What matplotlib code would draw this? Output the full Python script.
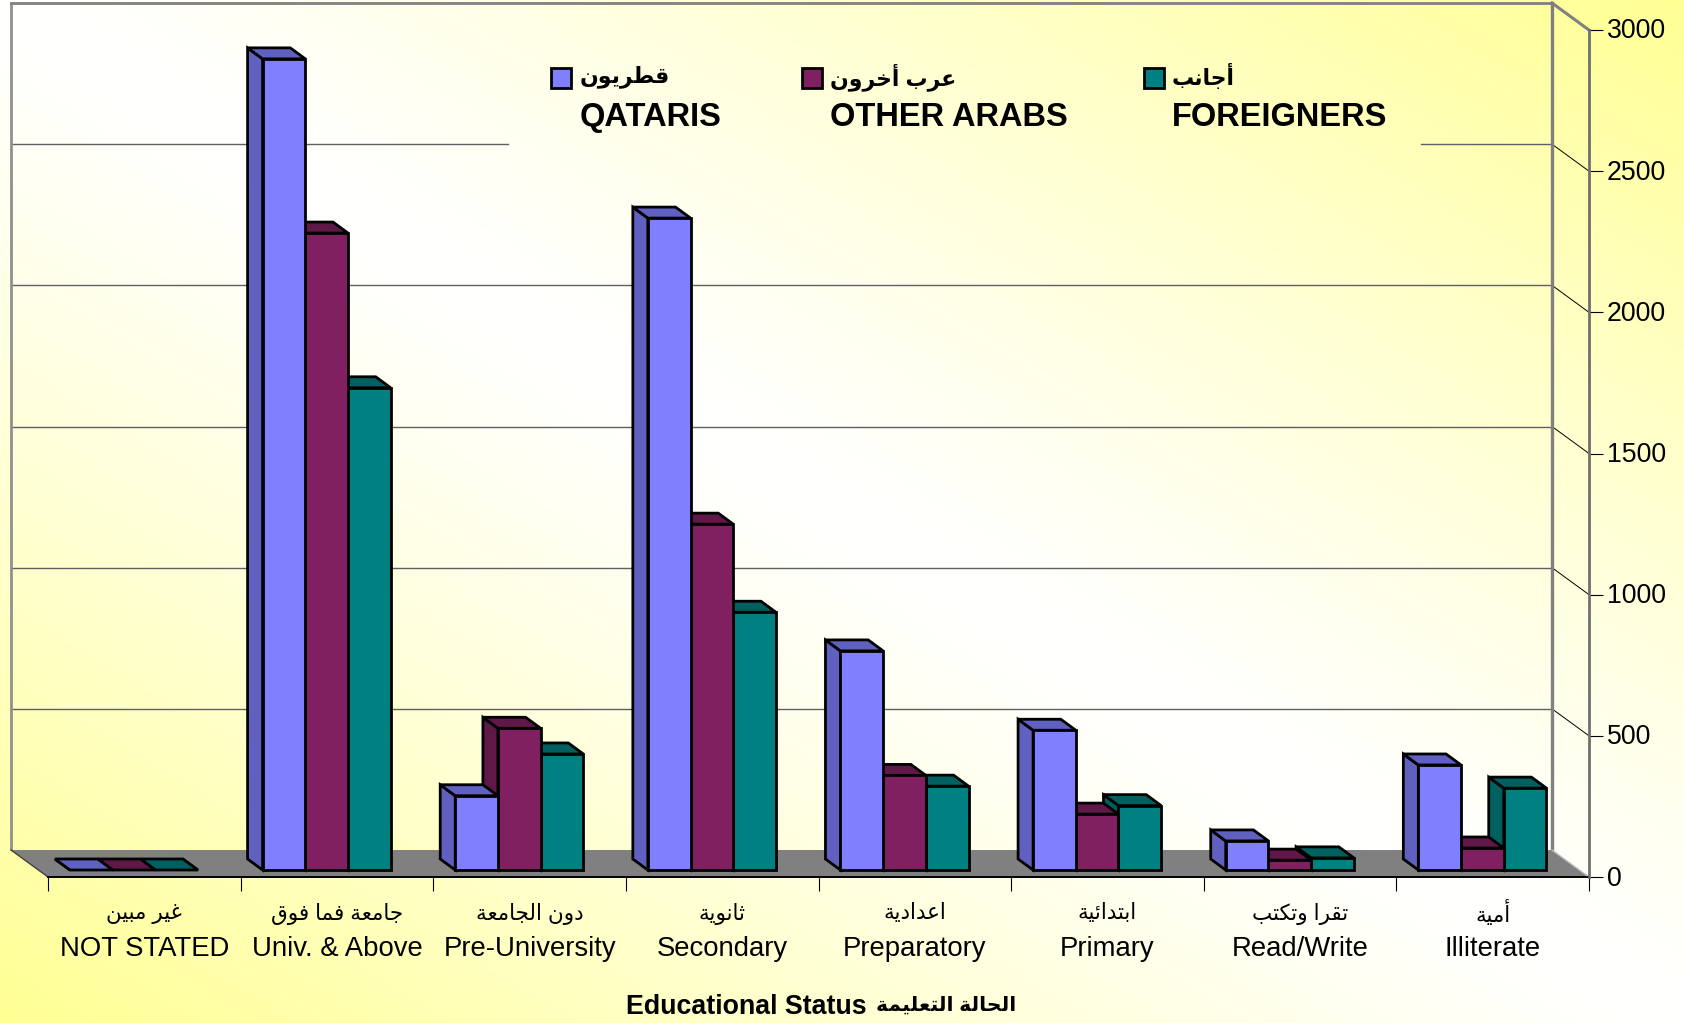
import numpy as np
import matplotlib
matplotlib.use("Agg")
import matplotlib.pyplot as plt
from matplotlib.patches import Polygon
from matplotlib.transforms import ScaledTranslation

# data
categories_en = ["NOT STATED", "Univ. & Above", "Pre-University", "Secondary",
                 "Preparatory", "Primary", "Read/Write", "Illiterate"]
categories_ar = ["غير مبين", "جامعة فما فوق", "دون الجامعة", "ثانوية",
                 "اعدادية", "ابتدائية", "تقرا وتكتب", "أمية"]
qataris = [0, 2873, 263, 2309, 776, 495, 103, 372]
other_arabs = [0, 2256, 502, 1225, 335, 198, 35, 78]
foreigners = [0, 1708, 411, 913, 297, 228, 43, 290]
series_en = ["QATARIS", "OTHER ARABS", "FOREIGNERS"]
series_ar = ["قطريون", "عرب أخرون", "أجانب"]
yticks = [0, 500, 1000, 1500, 2000, 2500, 3000]
axis_en = "Educational Status"
axis_ar = "الحالة التعليمة"

front_cols = ["#8080FF", "#802060", "#008080"]
dark_cols = ["#6060C0", "#601848", "#006060"]

# matplotlib does not shape arabic, so pick the presentation forms by hand
# letter: isolated, final, initial, medial
FORMS = {
    "ا": "\uFE8D\uFE8E", "أ": "\uFE83\uFE84", "د": "\uFEA9\uFEAA", "ر": "\uFEAD\uFEAE",
    "و": "\uFEED\uFEEE", "ة": "\uFE93\uFE94",
    "ب": "\uFE8F\uFE90\uFE91\uFE92", "ت": "\uFE95\uFE96\uFE97\uFE98",
    "ث": "\uFE99\uFE9A\uFE9B\uFE9C", "ج": "\uFE9D\uFE9E\uFE9F\uFEA0",
    "ح": "\uFEA1\uFEA2\uFEA3\uFEA4", "خ": "\uFEA5\uFEA6\uFEA7\uFEA8",
    "ط": "\uFEC1\uFEC2\uFEC3\uFEC4", "ع": "\uFEC9\uFECA\uFECB\uFECC",
    "غ": "\uFECD\uFECE\uFECF\uFED0", "ف": "\uFED1\uFED2\uFED3\uFED4",
    "ق": "\uFED5\uFED6\uFED7\uFED8", "ك": "\uFED9\uFEDA\uFEDB\uFEDC",
    "ل": "\uFEDD\uFEDE\uFEDF\uFEE0", "م": "\uFEE1\uFEE2\uFEE3\uFEE4",
    "ن": "\uFEE5\uFEE6\uFEE7\uFEE8", "ي": "\uFEF1\uFEF2\uFEF3\uFEF4",
    "ئ": "\uFE89\uFE8A\uFE8B\uFE8C",
}


def shape(word):
    out = []
    for i, c in enumerate(word):
        if c not in FORMS:
            out.append(c)
            continue
        prev = word[i - 1] if i > 0 else " "
        nxt = word[i + 1] if i < len(word) - 1 else " "
        joins_prev = prev in FORMS and len(FORMS[prev]) == 4
        joins_next = nxt in FORMS and len(FORMS[c]) == 4
        f = FORMS[c]
        if joins_prev and joins_next:
            out.append(f[3])
        elif joins_next:
            out.append(f[2])
        elif joins_prev:
            out.append(f[1])
        else:
            out.append(f[0])
    return "".join(out)[::-1]


def shape_line(text):
    return " ".join(shape(w) for w in text.split()[::-1])


W, H = 1684, 1023
plt.rcParams["font.family"] = ["Liberation Sans", "DejaVu Sans"]
fig = plt.figure(figsize=(W / 100, H / 100), dpi=100)

# yellow corners, white along the main diagonal
bg = fig.add_axes([0, 0, 1, 1], zorder=0)
u, v = np.meshgrid(np.linspace(0, 1, 400), np.linspace(0, 1, 300))
t = np.abs(u - v)
img = np.dstack([np.ones_like(t), np.ones_like(t), 1 - 0.42 * t ** 1.2])
bg.imshow(img, aspect="auto", extent=[0, 1, 0, 1], origin="upper")
bg.axis("off")

# front plane of the box
ax = fig.add_axes([48 / W, 1 - 877 / H, (1589 - 48) / W, (877 - 30) / H], zorder=1)
ax.patch.set_alpha(0)
ax.set_xlim(0, 8)
ax.set_ylim(0, 3000)
px_x = (1589 - 48) / 8
px_y = (877 - 30) / 3000


def dx(p):
    return p / px_x


def dy(p):
    return p / px_y


wall_x, wall_y = dx(37), dy(27)


def poly(pts, fc, ec="none", lw=0, z=2):
    ax.add_patch(Polygon(pts, closed=True, fc=fc, ec=ec, lw=lw, zorder=z,
                         clip_on=False, joinstyle="miter"))


# floor
poly([(-wall_x, wall_y), (8 - wall_x, wall_y), (8, 0), (0, 0)], "#808080", z=1.5)

# grid on the back wall and on the right side wall
grid_col = "#606060"
for tk in yticks[1:-1]:
    yy = tk + wall_y
    if tk == 2500:
        # the legend box interrupts this line
        ax.plot([-wall_x, dx(508 - 48)], [yy, yy], color=grid_col, lw=1, clip_on=False, zorder=1)
        ax.plot([dx(1421 - 48), 8 - wall_x], [yy, yy], color=grid_col, lw=1, clip_on=False, zorder=1)
    else:
        ax.plot([-wall_x, 8 - wall_x], [yy, yy], color=grid_col, lw=1, clip_on=False, zorder=1)
    ax.plot([8 - wall_x, 8], [yy, tk], color="black", lw=0.7, clip_on=False, zorder=1)

# box outline
top = 3000 + wall_y
ax.plot([-wall_x, -wall_x], [wall_y, top], color="#909090", lw=2, clip_on=False, zorder=1, solid_capstyle="butt")
ax.plot([-wall_x, 8 - wall_x], [top, top], color="#808080", lw=2, clip_on=False, zorder=1)
ax.plot([8 - wall_x, 8 - wall_x], [wall_y, top], color="#808080", lw=2.4, clip_on=False, zorder=1)
ax.plot([8 - wall_x, 8], [top, 3000], color="#808080", lw=2.2, clip_on=False, zorder=1)
ax.plot([8 - wall_x, 8], [wall_y, 0], color="#C0C0C0", lw=1, clip_on=False, zorder=1.6)
ax.plot([-wall_x, 0], [wall_y, 0], color="#404040", lw=1, clip_on=False, zorder=1.6)

# bars, right to left so that the left ones hide the side faces of their neighbours
series = [qataris, other_arabs, foreigners]
bar_w = 42.7 / px_x
shift_x, shift_y = dx(10.3), dy(7)
depth_x, depth_y = dx(15), dy(11)
edge = 2.0
z = 3.0
for i in range(len(categories_en) - 1, -1, -1):
    for s in (2, 1, 0):
        val = series[s][i]
        x0 = i + 0.5 - 1.5 * bar_w + s * bar_w - shift_x
        x1 = x0 + bar_w
        y0 = shift_y
        y1 = val + shift_y
        poly([(x0, y0), (x0 - depth_x, y0 + depth_y), (x0 - depth_x, y1 + depth_y), (x0, y1)],
             dark_cols[s], "black", edge, z)
        poly([(x0, y1), (x0 - depth_x, y1 + depth_y), (x1 - depth_x, y1 + depth_y), (x1, y1)],
             dark_cols[s], "black", edge, z + 0.001)
        if val > 0:
            poly([(x0, y0), (x1, y0), (x1, y1), (x0, y1)], front_cols[s], "black", edge, z + 0.002)
        z += 0.01

# axes
for side in ("left", "top"):
    ax.spines[side].set_visible(False)
ax.spines["right"].set_color("#707070")
ax.spines["right"].set_linewidth(2)
ax.spines["bottom"].set_linewidth(1.4)
ax.spines["bottom"].set_zorder(2)
ax.yaxis.tick_right()
ax.set_yticks(yticks)
ax.set_xticks(range(9))
ax.set_xticklabels([])
ax.tick_params(axis="y", length=10, width=0.8, pad=3, labelsize=19.2)
ax.tick_params(axis="x", length=10, width=0.8)
up = ScaledTranslation(0, 1.5 / 100, fig.dpi_scale_trans)
for lbl in ax.get_yticklabels():
    lbl.set_transform(lbl.get_transform() + up)

for i in range(len(categories_en)):
    ax.text(i + 0.5, -dy(914 - 877), shape_line(categories_ar[i]),
            ha="center", va="center", fontsize=15.5, clip_on=False)
    ax.text(i + 0.5, -dy(949 - 877), categories_en[i], ha="center", va="center",
            fontsize=19.8, clip_on=False)

ax.text(dx(867 - 48), -dy(1007 - 877), axis_en, ha="right", va="center",
        fontsize=19.3, fontweight="bold", clip_on=False)
ax.text(dx(876 - 48), -dy(1005 - 877), shape_line(axis_ar), ha="left", va="center",
        fontsize=14.6, fontweight="bold", clip_on=False)

# legend
mark_x = [551, 802, 1144]
text_x = [580, 830, 1172]
for s in range(3):
    xm = dx(mark_x[s] - 48)
    ym0 = dy(877 - 88)
    ym1 = dy(877 - 68)
    poly([(xm, ym0), (xm + dx(20), ym0), (xm + dx(20), ym1), (xm, ym1)],
         front_cols[s], "black", edge, 5)
    ax.text(dx(text_x[s] - 48), dy(877 - 77), shape_line(series_ar[s]),
            ha="left", va="center", fontsize=15.8, fontweight="bold", clip_on=False)
    ax.text(dx(text_x[s] - 48), dy(877 - 118), series_en[s], ha="left", va="center",
            fontsize=23.5, fontweight="bold", clip_on=False)

fig.savefig("out.png", dpi=100)
